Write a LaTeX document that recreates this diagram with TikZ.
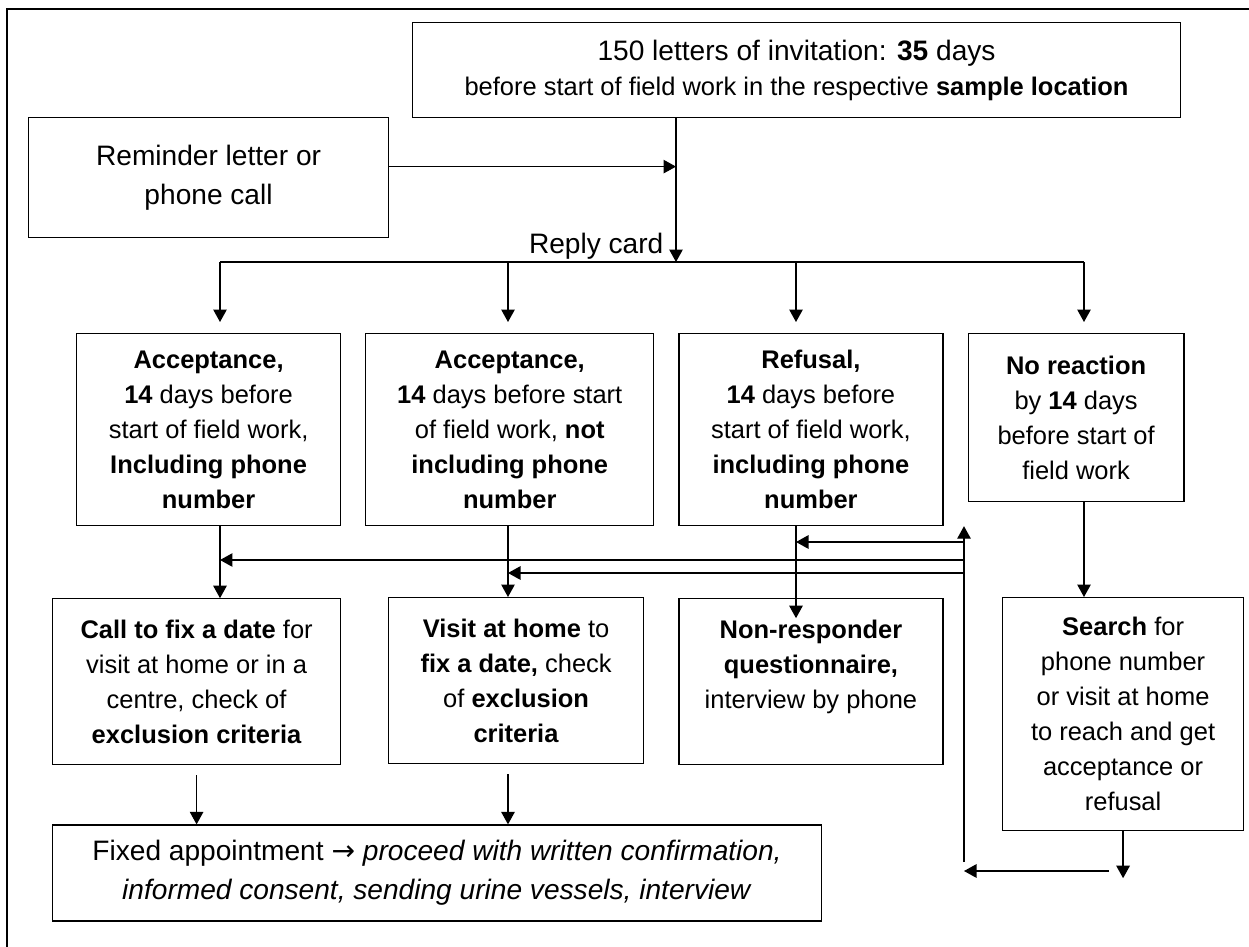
\documentclass[tikz,border=0pt]{standalone}
\usepackage{fontspec}
\setmainfont{Liberation Sans}
\newfontfamily\arrowfont{DejaVu Sans}
\usetikzlibrary{arrows.meta,positioning}

\begin{document}
\begin{tikzpicture}[x=0.02cm, y=-0.02cm, line width=0.7pt,
    box/.style={draw, align=center, inner sep=0pt, anchor=north west, font=\fontsize{14.5}{19.9}\selectfont},
    big/.style={font=\fontsize{16}{22.2}\selectfont},
    arr/.style={-{Triangle[length=0.25cm,width=0.27cm]}}]
    \useasboundingbox (0,0) rectangle (1249,947);
    \draw[line width=1.2pt] (7,947) -- (7,9) -- (1249,9);

    \node(letters)[box, minimum width=15.36cm, minimum height=1.9cm] at (412,22)
        {{\fontsize{16}{19.9}\selectfont 150 letters of invitation: \textbf{35} days}\\
        before start of field work in the respective \textbf{sample location}};
    \node(remind)[box, big, minimum width=7.2cm, minimum height=2.4cm] at (28,117)
        {Reminder letter or\\ phone call};
    \node(reply)[big, anchor=base east, inner sep=0pt] at (664,253) {Reply card};

    \node(acc1)[box, minimum width=5.28cm, minimum height=3.84cm] at (76,333)
        {\textbf{Acceptance,}\\ \textbf{14} days before\\ start of field work,\\ \textbf{Including phone}\\ \textbf{number}};
    \node(acc2)[box, right=0.48cm of acc1, minimum width=5.76cm, minimum height=3.84cm]
        {\textbf{Acceptance,}\\ \textbf{14} days before start\\ of field work, \textbf{not}\\ \textbf{including phone}\\ \textbf{number}};
    \node(refus)[box, right=0.48cm of acc2, minimum width=5.28cm, minimum height=3.84cm]
        {\textbf{Refusal,}\\ \textbf{14} days before\\ start of field work,\\ \textbf{including phone}\\ \textbf{number}};
    \node(noreac)[box, right=0.48cm of refus.north east, anchor=north west, minimum width=4.32cm, minimum height=3.36cm]
        {\textbf{No reaction}\\ by \textbf{14} days\\ before start of\\ field work};

    \node(call)[box, below=1.44cm of acc1.south east, anchor=north east, minimum width=5.76cm, minimum height=3.32cm]
        {\textbf{Call to fix a date} for\\ visit at home or in a\\ centre, check of\\ \textbf{exclusion criteria}};
    \node(visit)[box, minimum width=5.1cm, minimum height=3.32cm] at (388,597)
        {\textbf{Visit at home} to\\ \textbf{fix a date,} check\\ of \textbf{exclusion}\\ \textbf{criteria}};
    \node(nonresp)[box, below=1.44cm of refus.south west, anchor=north west, minimum width=5.28cm, minimum height=3.32cm]
        {\textbf{Non-responder}\\ \textbf{questionnaire,}\\ interview by phone\\ \mbox{}};
    \node(search)[box, minimum width=4.82cm, minimum height=4.66cm] at (1002,597)
        {\textbf{Search} for\\ phone number\\ or visit at home\\ to reach and get\\ acceptance or\\ refusal};
    \node(final)[box, big, below=1.18cm of call.south west, anchor=north west, minimum width=15.38cm, minimum height=1.92cm]
        {Fixed appointment {\arrowfont →} \textit{proceed with written confirmation,}\\ \textit{informed consent, sending urine vessels, interview}};

    \coordinate(fork) at (676,262);
    \coordinate(c1) at (220,262);
    \coordinate(c2) at (508,262);
    \coordinate(c3) at (796,262);
    \coordinate(c4) at (1084,262);
    \coordinate(r1) at (964,542);
    \coordinate(r2) at (964,560);
    \coordinate(r3) at (964,573);
    \coordinate(ret) at (964,862);
    \coordinate(back) at (1109,871);

    \draw[arr](fork |- letters.south) -- (fork);
    \draw[arr]([yshift=0.22cm]remind.east) -- ([yshift=0.22cm]remind.east -| fork);
    \draw(c1) -- (c4);
    \draw[arr, shorten >=0.22cm](c1) -- (c1 |- acc1.north);
    \draw[arr, shorten >=0.22cm](c2) -- (c2 |- acc2.north);
    \draw[arr, shorten >=0.22cm](c3) -- (c3 |- refus.north);
    \draw[arr, shorten >=0.22cm](c4) -- (c4 |- noreac.north);

    \draw[arr](c1 |- acc1.south) -- (c1 |- call.north);
    \draw[arr](c2 |- acc2.south) -- (c2 |- visit.north);
    \draw[arr](c3 |- refus.south) -- ([yshift=-0.4cm]c3 |- nonresp.north);
    \draw[arr](c4 |- noreac.south) -- (c4 |- search.north);

    \draw[arr](ret) -- (ret |- refus.south);
    \draw[arr](r1) -- (r1 -| c3);
    \draw[arr](r2) -- (r2 -| c1);
    \draw[arr](r3) -- (r3 -| c2);
    \draw[arr](search.south) -- ++(0,47);
    \draw[arr](back) -- (back -| ret);

    \draw[arr]([yshift=-0.2cm]call.south) -- (call.south |- final.north);
    \draw[arr]([yshift=-0.2cm]c2 |- visit.south) -- (c2 |- final.north);
\end{tikzpicture}
\end{document}
